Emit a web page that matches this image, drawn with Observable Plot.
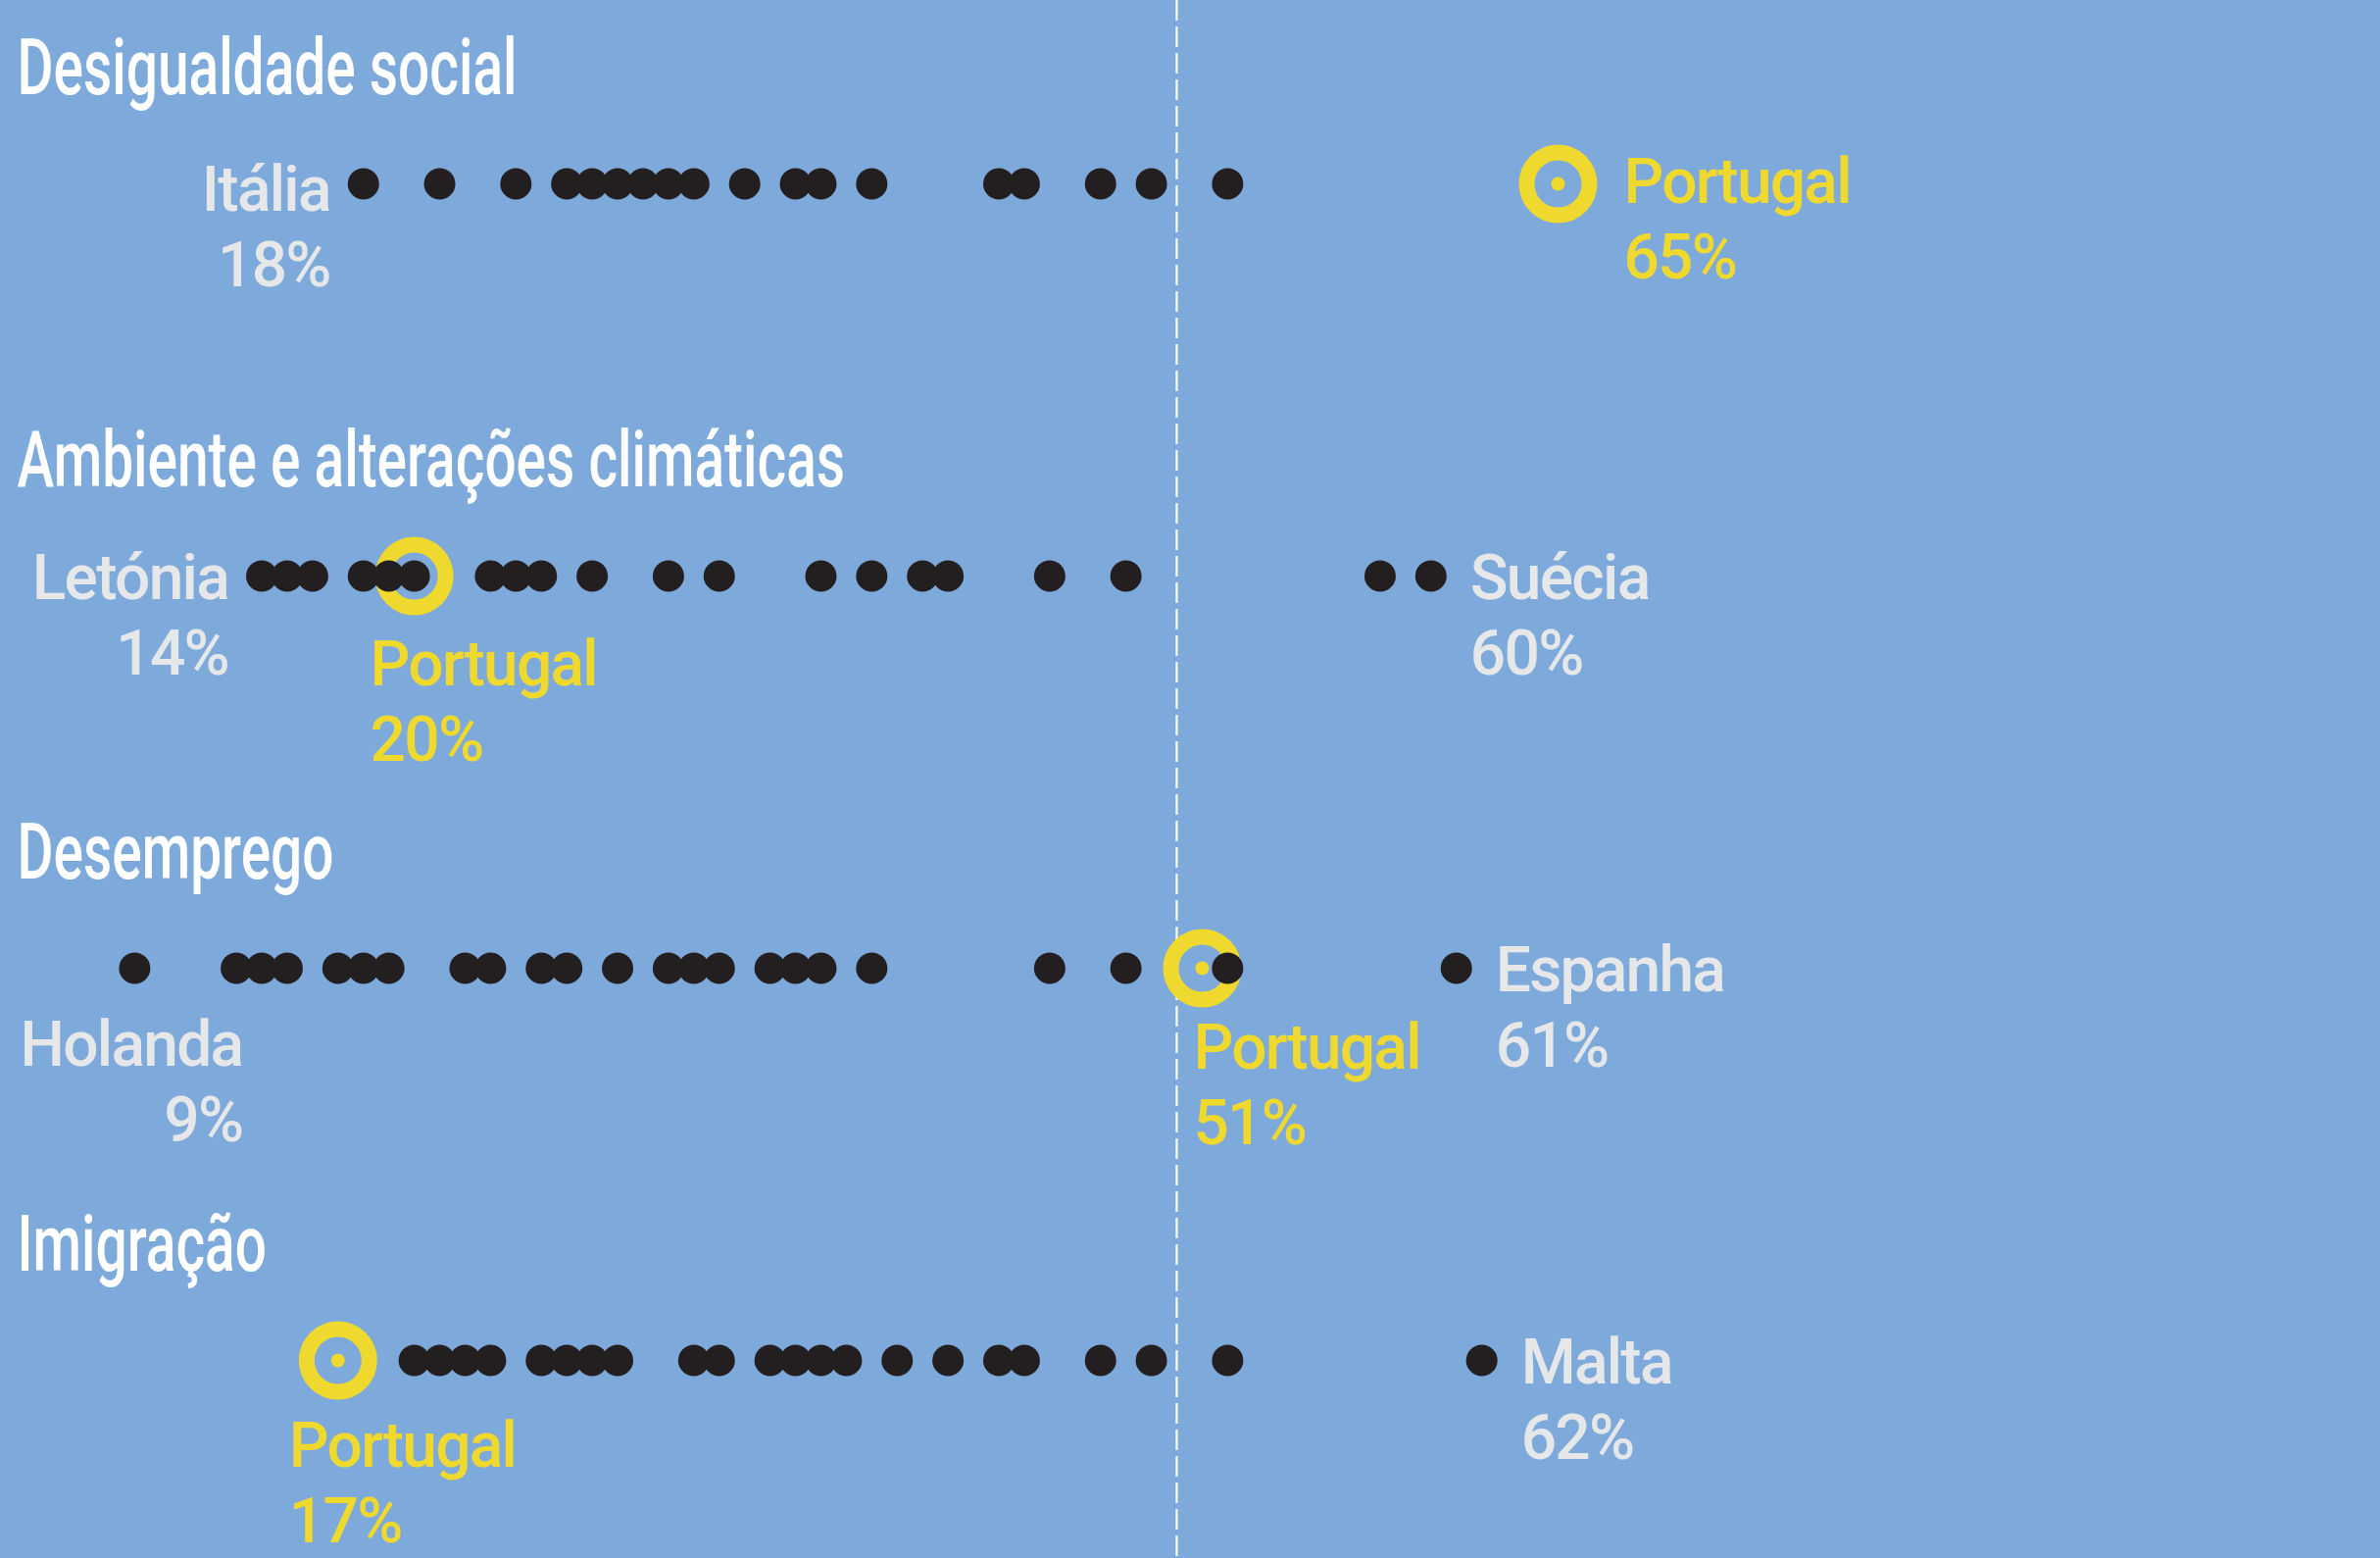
<!DOCTYPE html>
<html>
<head>
<meta charset="utf-8">
<script src="https://cdn.jsdelivr.net/npm/d3@7"></script>
<script src="https://cdn.jsdelivr.net/npm/@observablehq/plot@0.6"></script>
<style>
html, body { margin: 0; padding: 0; background: #7eaadb; }
#chart svg { display: block; }
#chart svg text { letter-spacing: -1.7px; }
</style>
</head>
<body>
<div id="chart"></div>
<script>
// ---- data ----
const topics = ["Desigualdade social", "Ambiente e alterações climáticas", "Desemprego", "Imigração"];
const desigualdade = [18, 21, 24, 26, 27, 28, 29, 30, 31, 33, 35, 36, 38, 43, 44, 47, 49, 52];
const ambiente = [14, 15, 16, 18, 19, 20, 23, 24, 25, 27, 30, 32, 36, 38, 40, 41, 45, 48, 58, 60];
const desemprego = [9, 13, 14, 15, 17, 18, 19, 22, 23, 25, 26, 28, 30, 31, 32, 34, 35, 36, 38, 45, 48, 52, 61];
const imigracao = [20, 21, 22, 23, 25, 26, 27, 28, 31, 32, 34, 35, 36, 37, 39, 41, 43, 44, 47, 49, 52, 62];
const portugal = [65, 20, 51, 17];
const minCountry = ["Itália", "Letónia", "Holanda", "Portugal"];
const maxCountry = ["Portugal", "Suécia", "Espanha", "Malta"];
const average = [50];

// ---- derived tables ----
const seriesByTopic = [desigualdade, ambiente, desemprego, imigracao];
const dots = topics.flatMap((t, i) => seriesByTopic[i].map(v => ({topic: t, value: v})));
const pt = topics.map((t, i) => ({topic: t, value: portugal[i]}));

const labels = [];
topics.forEach((t, i) => {
  const vals = seriesByTopic[i].concat(portugal[i]);
  labels.push({topic: t, name: minCountry[i], value: d3.min(vals)});
  labels.push({topic: t, name: maxCountry[i], value: d3.max(vals)});
  if (minCountry[i] !== "Portugal" && maxCountry[i] !== "Portugal")
    labels.push({topic: t, name: "Portugal", value: portugal[i]});
});

// ---- label placement (layout only) ----
const placement = {
  "0|Itália":   {anchor: "end",   dx: -34, dy: 104},
  "0|Portugal": {anchor: "start", dx: 67,  dy: 96},
  "1|Letónia":  {anchor: "end",   dx: -34, dy: 100},
  "1|Suécia":   {anchor: "start", dx: 40,  dy: 100},
  "1|Portugal": {anchor: "start", dx: -45, dy: 188},
  "2|Holanda":  {anchor: "end",   dx: 110, dy: 176},
  "2|Espanha":  {anchor: "start", dx: 40,  dy: 100},
  "2|Portugal": {anchor: "start", dx: -9,  dy: 179},
  "3|Portugal": {anchor: "start", dx: -50, dy: 185},
  "3|Malta":    {anchor: "start", dx: 40,  dy: 100}
};

const YELLOW = "#efd92e";
const GREY = "#e6e7e9";
const INK = "#231f20";

const labelMarks = labels.map(l => {
  const p = placement[topics.indexOf(l.topic) + "|" + l.name];
  return Plot.text([l], {
    x: "value", y: "topic",
    text: d => `${d.name}\n${d.value}%`,
    textAnchor: p.anchor, lineAnchor: "bottom", lineHeight: 1.2,
    dx: p.dx, dy: p.dy,
    fill: l.name === "Portugal" ? YELLOW : GREY,
    fontSize: 64, fontWeight: 500, fontFamily: "Roboto"
  });
});

const chart = Plot.plot({
  width: 2428,
  height: 1589,
  margin: 0,
  style: {background: "#7eaadb", overflow: "visible"},
  x: {domain: [0, 100], range: [-96.5, 2496.5], axis: null},
  y: {type: "point", domain: topics, range: [186.7, 1386.7], padding: 0, axis: null},
  marks: [
    Plot.ruleX(average, {stroke: "white", strokeWidth: 2.2, strokeDasharray: "21,6"}),
    Plot.dot(pt, {x: "value", y: "topic", r: 32, stroke: YELLOW, strokeWidth: 16, fill: "none"}),
    Plot.dot(pt, {x: "value", y: "topic", r: 7, fill: YELLOW}),
    Plot.dot(dots, {x: "value", y: "topic", r: 16, fill: INK}),
    Plot.text(topics, {
      y: d => d, text: d => d, frameAnchor: "left", dx: 17, dy: -91.7,
      textAnchor: "start", lineAnchor: "bottom",
      fill: "white", fontSize: 80, fontWeight: 500, fontFamily: "Roboto"
    }),
    ...labelMarks
  ]
});

document.getElementById("chart").append(chart);

// condense the section titles
chart.querySelectorAll("text").forEach(t => {
  if (topics.includes(t.textContent)) {
    t.style.letterSpacing = "0px";
    const w = t.getComputedTextLength();
    t.setAttribute("textLength", (w * 0.71).toFixed(1));
    t.setAttribute("lengthAdjust", "spacingAndGlyphs");
  }
});
</script>
</body>
</html>
